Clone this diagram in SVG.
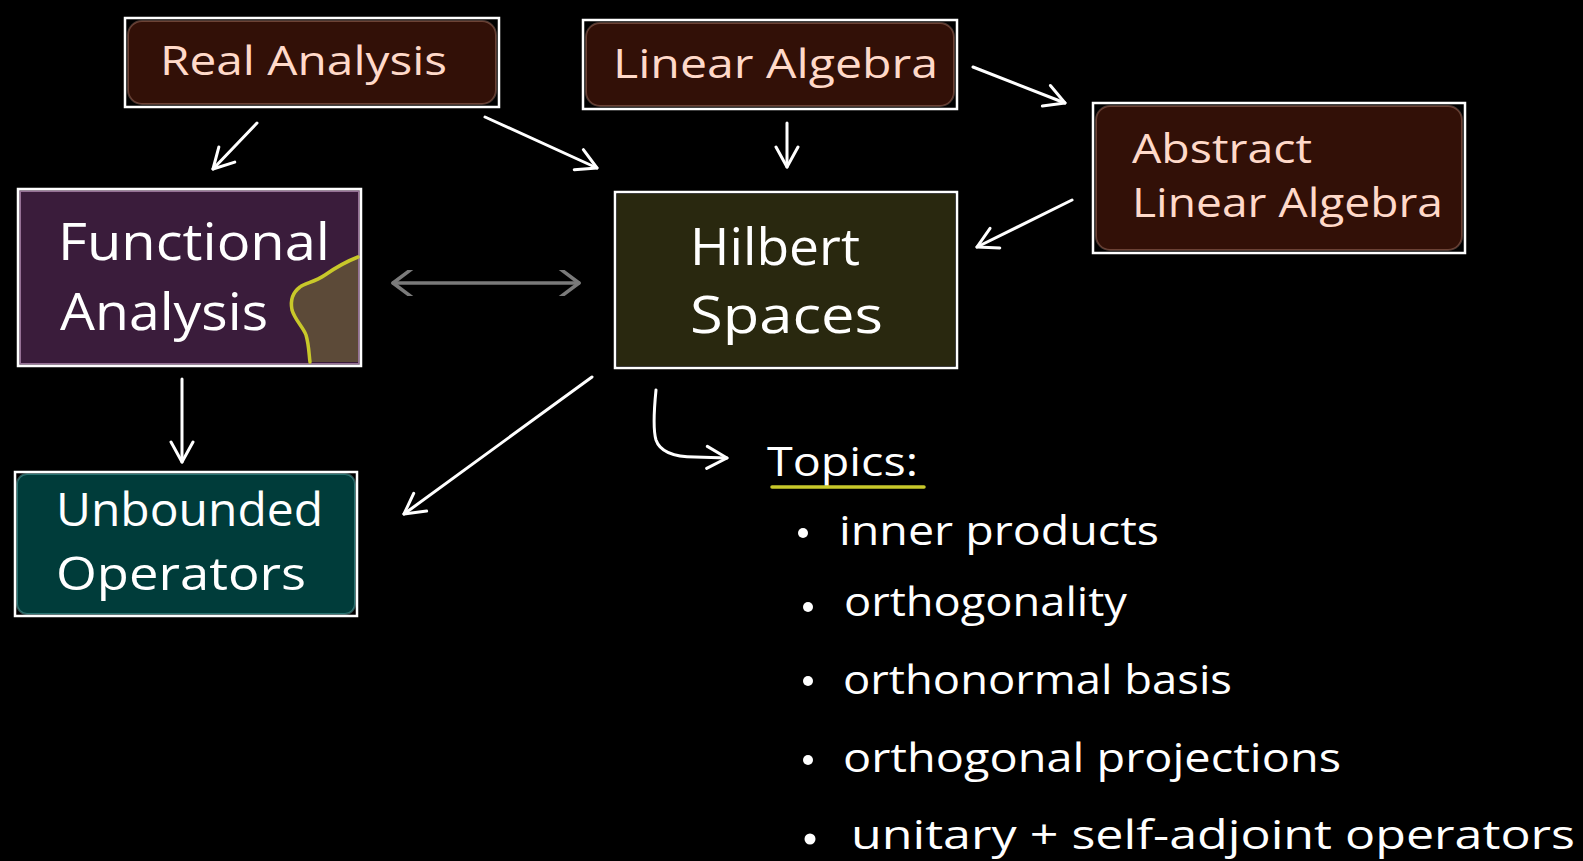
<svg xmlns="http://www.w3.org/2000/svg" width="1583" height="861" viewBox="0 0 1583 861">
  <defs>
    <marker id="head" viewBox="-22 -13 25 26" markerWidth="25" markerHeight="26" refX="0" refY="0" orient="auto" markerUnits="userSpaceOnUse">
      <path d="M -20 -11 L 0 0 L -20 11" fill="none" stroke="#ffffff" stroke-width="3" stroke-linecap="round" stroke-linejoin="round"/>
    </marker>
    <marker id="headGray" viewBox="-22 -13 25 26" markerWidth="25" markerHeight="26" refX="0" refY="0" orient="auto-start-reverse" markerUnits="userSpaceOnUse">
      <path d="M -24 -18 L 0 0 L -24 18" fill="none" stroke="#7a7a7a" stroke-width="3.5" stroke-linecap="round" stroke-linejoin="round"/>
    </marker>
  </defs>
  <style>
    .frame { fill: none; stroke: #ffffff; stroke-width: 2.5; }
    .hdr { fill: #321007; stroke: #f4b6a2; stroke-opacity: 0.3; stroke-width: 2; }
    .hdrText { font-family: "Open Sans", "Noto Sans", "Liberation Sans", sans-serif; font-size: 40px; fill: #ffd9c9; }
    .bigText { font-family: "Open Sans", "Noto Sans", "Liberation Sans", sans-serif; font-size: 52px; fill: #ffffff; }
    .midText { font-family: "Open Sans", "Noto Sans", "Liberation Sans", sans-serif; font-size: 46px; fill: #ffffff; }
    .topic { font-family: "Open Sans", "Noto Sans", "Liberation Sans", sans-serif; font-size: 40px; fill: #ffffff; }
    .conn { fill: none; stroke: #ffffff; stroke-width: 3; stroke-linecap: round; marker-end: url(#head); }
    .bullet { fill: #ffffff; }
  </style>
  <rect x="0" y="0" width="1583" height="861" fill="#000000"/>

  <g id="real-analysis">
    <rect class="hdr" x="128" y="21" width="368" height="83" rx="14"/>
    <rect class="frame" x="125" y="18" width="374" height="89"/>
    <text class="hdrText" x="160" y="75" textLength="287" lengthAdjust="spacingAndGlyphs">Real Analysis</text>
  </g>

  <g id="linear-algebra">
    <rect class="hdr" x="586" y="23" width="368" height="83" rx="14"/>
    <rect class="frame" x="583" y="20" width="374" height="89"/>
    <text class="hdrText" x="613" y="78" textLength="325" lengthAdjust="spacingAndGlyphs">Linear Algebra</text>
  </g>

  <g id="abstract-linear-algebra">
    <rect class="hdr" x="1096" y="106" width="366" height="144" rx="14"/>
    <rect class="frame" x="1093" y="103" width="372" height="150"/>
    <text class="hdrText" x="1132" y="163" textLength="180" lengthAdjust="spacingAndGlyphs">Abstract</text>
    <text class="hdrText" x="1132" y="217" textLength="311" lengthAdjust="spacingAndGlyphs">Linear Algebra</text>
  </g>

  <g id="functional-analysis">
    <rect x="20" y="191" width="339" height="173" fill="#3a1c3b" stroke="#f0c4f0" stroke-opacity="0.5" stroke-width="2"/>
    <path d="M 358 257 C 345 262 335 268 325 275 C 315 282 305 283 300 287 C 292 293 290 300 292 310 C 295 320 303 327 306 335 C 309 345 309 355 310 362 L 358 362 Z" fill="#5c4a38"/>
    <path d="M 358 257 C 345 262 335 268 325 275 C 315 282 305 283 300 287 C 292 293 290 300 292 310 C 295 320 303 327 306 335 C 309 345 309 355 310 362" fill="none" stroke="#c8c82a" stroke-width="3.5" stroke-linecap="round"/>
    <rect class="frame" x="18" y="189" width="343" height="177"/>
    <text class="bigText" x="58" y="260" textLength="272" lengthAdjust="spacingAndGlyphs">Functional</text>
    <text class="bigText" x="60" y="330" textLength="208" lengthAdjust="spacingAndGlyphs">Analysis</text>
  </g>

  <g id="hilbert-spaces">
    <rect x="617" y="194" width="338" height="172" fill="#29280f"/>
    <rect class="frame" x="615" y="192" width="342" height="176"/>
    <text class="bigText" x="690" y="265" textLength="170" lengthAdjust="spacingAndGlyphs">Hilbert</text>
    <text class="bigText" x="690" y="333" textLength="193" lengthAdjust="spacingAndGlyphs">Spaces</text>
  </g>

  <g id="unbounded-operators">
    <rect x="17" y="474" width="338" height="140" rx="10" fill="#003c3a" stroke="#7fe0e0" stroke-opacity="0.35" stroke-width="2"/>
    <rect class="frame" x="15" y="472" width="342" height="144"/>
    <text class="midText" x="56" y="526" textLength="267" lengthAdjust="spacingAndGlyphs">Unbounded</text>
    <text class="midText" x="56" y="590" textLength="250" lengthAdjust="spacingAndGlyphs">Operators</text>
  </g>

  <g id="topics">
    <text class="topic" x="767" y="476" textLength="151" lengthAdjust="spacingAndGlyphs">Topics:</text>
    <line x1="772" y1="487" x2="924" y2="487" stroke="#c8c82a" stroke-width="3.5" stroke-linecap="round"/>
    <circle class="bullet" cx="803" cy="533" r="5"/>
    <text class="topic" x="839" y="545" textLength="320" lengthAdjust="spacingAndGlyphs">inner products</text>
    <circle class="bullet" cx="808" cy="607" r="5"/>
    <text class="topic" x="844" y="616" textLength="283" lengthAdjust="spacingAndGlyphs">orthogonality</text>
    <circle class="bullet" cx="808" cy="681" r="5"/>
    <text class="topic" x="843" y="694" textLength="389" lengthAdjust="spacingAndGlyphs">orthonormal basis</text>
    <circle class="bullet" cx="808" cy="760" r="5"/>
    <text class="topic" x="843" y="772" textLength="498" lengthAdjust="spacingAndGlyphs">orthogonal projections</text>
    <circle class="bullet" cx="810" cy="839" r="5.5"/>
    <text class="topic" x="851" y="849" font-size="38" textLength="724" lengthAdjust="spacingAndGlyphs">unitary + self-adjoint operators</text>
  </g>

  <g id="connectors">
    <line class="conn" x1="257" y1="123" x2="213" y2="169"/>
    <line class="conn" x1="485" y1="117" x2="597" y2="168"/>
    <line class="conn" x1="787" y1="123" x2="787" y2="167"/>
    <line class="conn" x1="973" y1="67" x2="1065" y2="103"/>
    <line class="conn" x1="1072" y1="200" x2="977" y2="247"/>
    <line x1="393" y1="283" x2="579" y2="283" fill="none" stroke="#7a7a7a" stroke-width="3.5" stroke-linecap="round" marker-start="url(#headGray)" marker-end="url(#headGray)"/>
    <line class="conn" x1="182" y1="379" x2="182" y2="462"/>
    <line class="conn" x1="592" y1="377" x2="404" y2="514"/>
    <path class="conn" d="M 656 390 C 654 410 653 430 656 440 C 660 452 675 457 695 457 L 727 458"/>
  </g>
</svg>
